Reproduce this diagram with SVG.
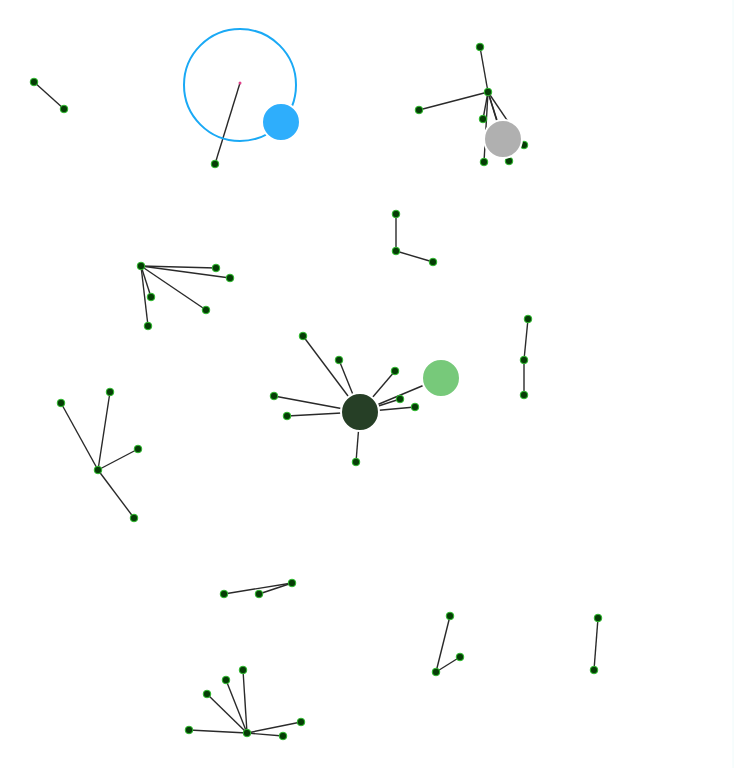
<svg xmlns="http://www.w3.org/2000/svg" width="738" height="768" viewBox="0 0 738 768">
<style>
.e{stroke:#2a2a2a;stroke-width:1.4;fill:none}
.n{fill:#063d06;stroke:#2fbf2f;stroke-width:1}
.big{stroke:#fff;stroke-width:2}
</style>
<rect width="738" height="768" fill="#fff"/>
<line x1="733" y1="0" x2="733" y2="768" stroke="#eefafa" stroke-width="1"/>
<g id="connectors">
<line class="e" x1="34" y1="82" x2="64" y2="109"/>
<line class="e" x1="240" y1="83" x2="215" y2="164"/>
<line class="e" x1="488" y1="92" x2="480" y2="47"/>
<line class="e" x1="488" y1="92" x2="419" y2="110"/>
<line class="e" x1="488" y1="92" x2="483" y2="119"/>
<line class="e" x1="488" y1="92" x2="484" y2="162"/>
<line class="e" x1="488" y1="92" x2="509" y2="161"/>
<line class="e" x1="488" y1="92" x2="524" y2="145"/>
<line class="e" x1="488" y1="92" x2="503" y2="139"/>
<line class="e" x1="396" y1="214" x2="396" y2="251"/>
<line class="e" x1="396" y1="251" x2="433" y2="262"/>
<line class="e" x1="141" y1="266" x2="216" y2="268"/>
<line class="e" x1="141" y1="266" x2="230" y2="278"/>
<line class="e" x1="141" y1="266" x2="151" y2="297"/>
<line class="e" x1="141" y1="266" x2="206" y2="310"/>
<line class="e" x1="141" y1="266" x2="148" y2="326"/>
<line class="e" x1="528" y1="319" x2="524" y2="360"/>
<line class="e" x1="524" y1="360" x2="524" y2="395"/>
<line class="e" x1="360" y1="412" x2="303" y2="336"/>
<line class="e" x1="360" y1="412" x2="339" y2="360"/>
<line class="e" x1="360" y1="412" x2="395" y2="371"/>
<line class="e" x1="360" y1="412" x2="274" y2="396"/>
<line class="e" x1="360" y1="412" x2="287" y2="416"/>
<line class="e" x1="360" y1="412" x2="400" y2="399"/>
<line class="e" x1="360" y1="412" x2="415" y2="407"/>
<line class="e" x1="360" y1="412" x2="356" y2="462"/>
<line class="e" x1="360" y1="412" x2="441" y2="378"/>
<line class="e" x1="98" y1="470" x2="61" y2="403"/>
<line class="e" x1="98" y1="470" x2="110" y2="392"/>
<line class="e" x1="98" y1="470" x2="138" y2="449"/>
<line class="e" x1="98" y1="470" x2="134" y2="518"/>
<line class="e" x1="224" y1="594" x2="292" y2="583"/>
<line class="e" x1="259" y1="594" x2="292" y2="583"/>
<line class="e" x1="450" y1="616" x2="436" y2="672"/>
<line class="e" x1="436" y1="672" x2="460" y2="657"/>
<line class="e" x1="598" y1="618" x2="594" y2="670"/>
<line class="e" x1="247" y1="733" x2="189" y2="730"/>
<line class="e" x1="247" y1="733" x2="207" y2="694"/>
<line class="e" x1="247" y1="733" x2="226" y2="680"/>
<line class="e" x1="247" y1="733" x2="243" y2="670"/>
<line class="e" x1="247" y1="733" x2="301" y2="722"/>
<line class="e" x1="247" y1="733" x2="283" y2="736"/>
</g>
<g id="ring"><circle cx="240" cy="85" r="56" fill="none" stroke="#1aa9f5" stroke-width="2"/><circle cx="240" cy="83" r="1.5" fill="#e0408a"/></g>
<g id="n1"><circle class="n" cx="34" cy="82" r="3.8"/></g>
<g id="n2"><circle class="n" cx="64" cy="109" r="3.8"/></g>
<g id="n3"><circle class="n" cx="215" cy="164" r="3.8"/></g>
<g id="n4"><circle class="n" cx="480" cy="47" r="3.8"/></g>
<g id="n5"><circle class="n" cx="488" cy="92" r="3.8"/></g>
<g id="n6"><circle class="n" cx="419" cy="110" r="3.8"/></g>
<g id="n7"><circle class="n" cx="483" cy="119" r="3.8"/></g>
<g id="n8"><circle class="n" cx="484" cy="162" r="3.8"/></g>
<g id="n9"><circle class="n" cx="509" cy="161" r="3.8"/></g>
<g id="n10"><circle class="n" cx="524" cy="145" r="3.8"/></g>
<g id="n11"><circle class="n" cx="396" cy="214" r="3.8"/></g>
<g id="n12"><circle class="n" cx="396" cy="251" r="3.8"/></g>
<g id="n13"><circle class="n" cx="433" cy="262" r="3.8"/></g>
<g id="n14"><circle class="n" cx="141" cy="266" r="3.8"/></g>
<g id="n15"><circle class="n" cx="216" cy="268" r="3.8"/></g>
<g id="n16"><circle class="n" cx="230" cy="278" r="3.8"/></g>
<g id="n17"><circle class="n" cx="151" cy="297" r="3.8"/></g>
<g id="n18"><circle class="n" cx="206" cy="310" r="3.8"/></g>
<g id="n19"><circle class="n" cx="148" cy="326" r="3.8"/></g>
<g id="n20"><circle class="n" cx="528" cy="319" r="3.8"/></g>
<g id="n21"><circle class="n" cx="524" cy="360" r="3.8"/></g>
<g id="n22"><circle class="n" cx="524" cy="395" r="3.8"/></g>
<g id="n23"><circle class="n" cx="303" cy="336" r="3.8"/></g>
<g id="n24"><circle class="n" cx="339" cy="360" r="3.8"/></g>
<g id="n25"><circle class="n" cx="395" cy="371" r="3.8"/></g>
<g id="n26"><circle class="n" cx="274" cy="396" r="3.8"/></g>
<g id="n27"><circle class="n" cx="287" cy="416" r="3.8"/></g>
<g id="n28"><circle class="n" cx="400" cy="399" r="3.8"/></g>
<g id="n29"><circle class="n" cx="415" cy="407" r="3.8"/></g>
<g id="n30"><circle class="n" cx="356" cy="462" r="3.8"/></g>
<g id="n31"><circle class="n" cx="98" cy="470" r="3.8"/></g>
<g id="n32"><circle class="n" cx="61" cy="403" r="3.8"/></g>
<g id="n33"><circle class="n" cx="110" cy="392" r="3.8"/></g>
<g id="n34"><circle class="n" cx="138" cy="449" r="3.8"/></g>
<g id="n35"><circle class="n" cx="134" cy="518" r="3.8"/></g>
<g id="n36"><circle class="n" cx="224" cy="594" r="3.8"/></g>
<g id="n37"><circle class="n" cx="259" cy="594" r="3.8"/></g>
<g id="n38"><circle class="n" cx="292" cy="583" r="3.8"/></g>
<g id="n39"><circle class="n" cx="450" cy="616" r="3.8"/></g>
<g id="n40"><circle class="n" cx="436" cy="672" r="3.8"/></g>
<g id="n41"><circle class="n" cx="460" cy="657" r="3.8"/></g>
<g id="n42"><circle class="n" cx="598" cy="618" r="3.8"/></g>
<g id="n43"><circle class="n" cx="594" cy="670" r="3.8"/></g>
<g id="n44"><circle class="n" cx="247" cy="733" r="3.8"/></g>
<g id="n45"><circle class="n" cx="189" cy="730" r="3.8"/></g>
<g id="n46"><circle class="n" cx="207" cy="694" r="3.8"/></g>
<g id="n47"><circle class="n" cx="226" cy="680" r="3.8"/></g>
<g id="n48"><circle class="n" cx="243" cy="670" r="3.8"/></g>
<g id="n49"><circle class="n" cx="301" cy="722" r="3.8"/></g>
<g id="n50"><circle class="n" cx="283" cy="736" r="3.8"/></g>
<g id="blue"><circle class="big" cx="281" cy="122" r="19" fill="#2eaefc"/></g>
<g id="gray"><circle class="big" cx="503" cy="139" r="19" fill="#b0b0b0"/></g>
<g id="hub"><circle class="big" cx="360" cy="412" r="19" fill="#263f26"/></g>
<g id="green"><circle class="big" cx="441" cy="378" r="19" fill="#77c97a"/></g>
</svg>
